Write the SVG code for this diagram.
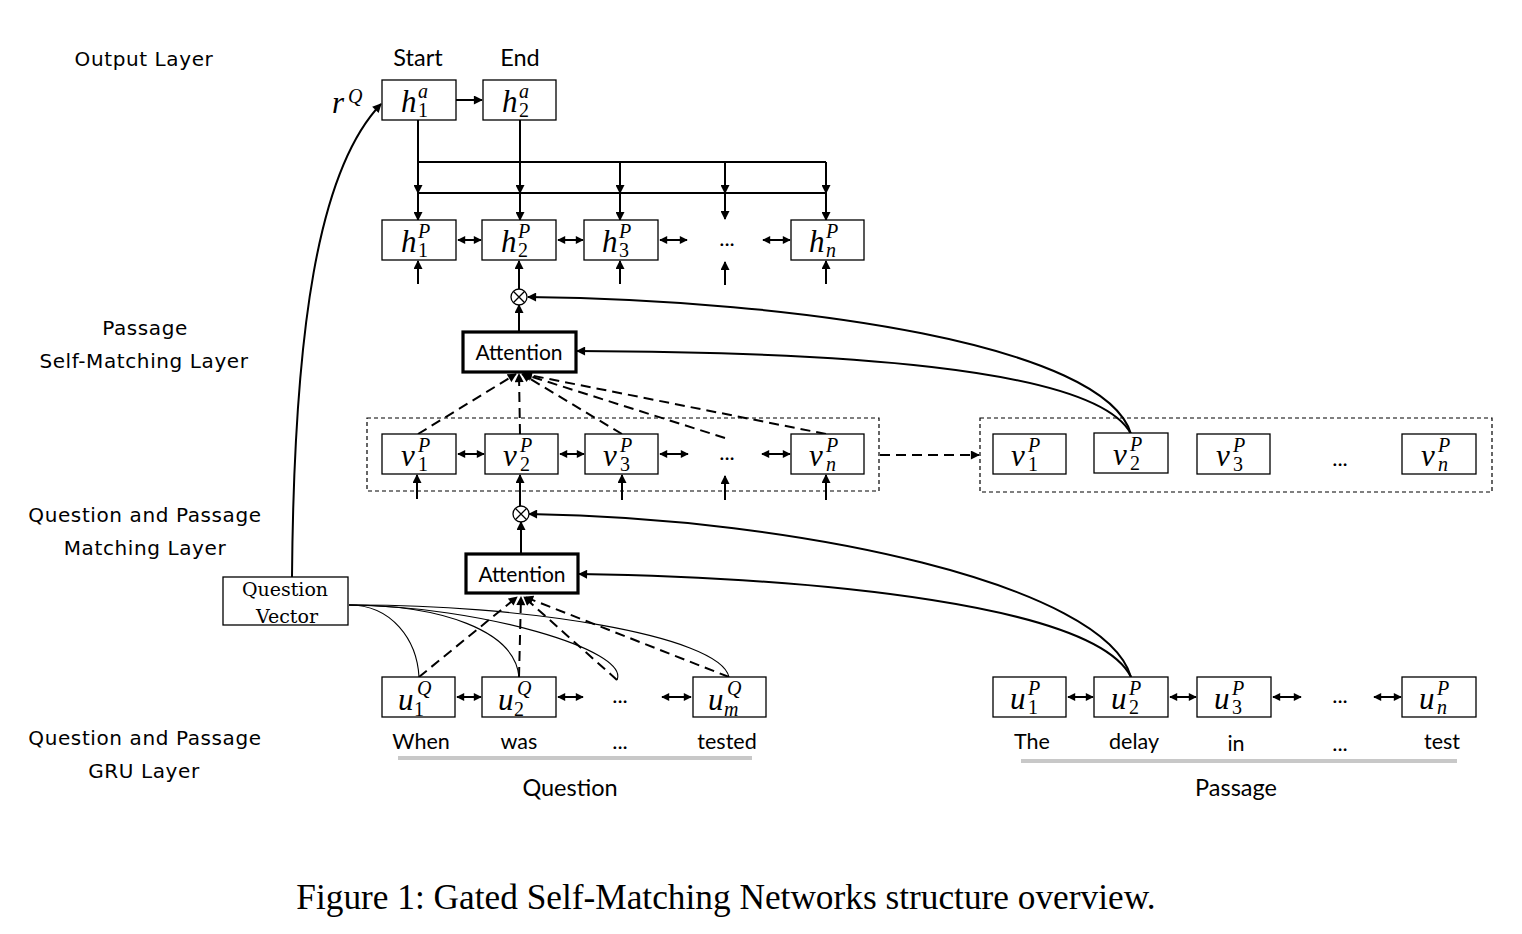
<svg xmlns="http://www.w3.org/2000/svg" width="1522" height="934" viewBox="0 0 1522 934">
<defs>
<marker id="ah" viewBox="0 0 10 10" refX="9" refY="5" markerWidth="10" markerHeight="9" markerUnits="userSpaceOnUse" orient="auto-start-reverse">
<path d="M0,0 L10,5 L0,10 z" fill="#000"/>
</marker>
<marker id="ahs" viewBox="0 0 10 10" refX="9" refY="5" markerWidth="9" markerHeight="8" markerUnits="userSpaceOnUse" orient="auto-start-reverse">
<path d="M0,0 L10,5 L0,10 z" fill="#000"/>
</marker>
</defs>
<style>
.box{fill:#fff;stroke:#000;stroke-width:1.3}
.att{fill:#fff;stroke:#000;stroke-width:3.2}
.cont{fill:none;stroke:#000;stroke-width:1.2;stroke-dasharray:4 3}
.ln{fill:none;stroke:#000;stroke-width:2}
.qv{fill:none;stroke:#000;stroke-width:1.1}
.dash{fill:none;stroke:#000;stroke-width:2;stroke-dasharray:10 6}
.arr{marker-end:url(#ah)}
.dbl{marker-start:url(#ahs);marker-end:url(#ahs)}
.lab{font-family:"DejaVu Sans",sans-serif;font-size:20px;letter-spacing:0.6px;text-anchor:middle;fill:#000}
.cal{font-family:Lato,"Liberation Sans",sans-serif;font-size:21.5px;text-anchor:middle;fill:#000}
.big{font-size:23.5px}
.attt{font-size:21px}
.m{font-family:"Liberation Serif",serif;font-style:italic;font-size:31px;fill:#000}
.s{font-family:"Liberation Serif",serif;font-size:20px;fill:#000}
.si{font-family:"Liberation Serif",serif;font-style:italic;font-size:20px;fill:#000}
.dots{font-family:Lato,"Liberation Sans",sans-serif;font-size:22px;text-anchor:middle;fill:#000}
.gray{stroke:#c8c8c8;stroke-width:4}
.cap{font-family:"Liberation Serif",serif;font-size:35.3px;text-anchor:middle;fill:#000}
</style>

<!-- layer labels -->
<g id="layer-labels">
<text class="lab" x="144" y="66">Output Layer</text>
<text class="lab" x="145" y="335">Passage</text>
<text class="lab" x="144" y="368">Self-Matching Layer</text>
<text class="lab" x="145" y="522">Question and Passage</text>
<text class="lab" x="145" y="555">Matching Layer</text>
<text class="lab" x="145" y="745">Question and Passage</text>
<text class="lab" x="144" y="778">GRU Layer</text>
</g>

<!-- connectors -->
<g id="connectors">
<line class="ln arr" x1="456" y1="100" x2="482" y2="100"/>
<line class="ln" x1="418" y1="162" x2="826" y2="162"/>
<line class="ln" x1="418" y1="193" x2="826" y2="193"/>
<line class="ln arr" x1="418" y1="120" x2="418" y2="193"/>
<line class="ln arr" x1="520" y1="120" x2="520" y2="193"/>
<line class="ln arr" x1="620" y1="162" x2="620" y2="193"/>
<line class="ln arr" x1="725" y1="162" x2="725" y2="193"/>
<line class="ln arr" x1="826" y1="162" x2="826" y2="193"/>
<line class="ln arr" x1="418" y1="193" x2="418" y2="220"/>
<line class="ln arr" x1="520" y1="193" x2="520" y2="220"/>
<line class="ln arr" x1="620" y1="193" x2="620" y2="220"/>
<line class="ln arr" x1="725" y1="193" x2="725" y2="219"/>
<line class="ln arr" x1="826" y1="193" x2="826" y2="220"/>
<line class="ln dbl" x1="458" y1="240" x2="481" y2="240"/>
<line class="ln dbl" x1="558" y1="240" x2="583" y2="240"/>
<line class="ln dbl" x1="660" y1="240" x2="687" y2="240"/>
<line class="ln dbl" x1="763" y1="240" x2="790" y2="240"/>
<line class="ln arr" x1="418" y1="284" x2="418" y2="261"/>
<line class="ln arr" x1="620" y1="284" x2="620" y2="261"/>
<line class="ln arr" x1="725" y1="285" x2="725" y2="262"/>
<line class="ln arr" x1="826" y1="284" x2="826" y2="261"/>
<line class="ln arr" x1="519" y1="289" x2="519" y2="261"/>
<line class="ln arr" x1="519" y1="331" x2="519" y2="305"/>
<path class="ln arr" d="M1131,434 C1105,345 800,300 528,297"/>
<path class="ln arr" d="M1131,434 C1095,365 820,352 577,351"/>
<line class="dash arr" x1="418" y1="434" x2="516" y2="374"/>
<line class="dash arr" x1="520" y1="434" x2="519" y2="374"/>
<line class="dash arr" x1="622" y1="434" x2="522" y2="374"/>
<line class="dash arr" x1="725" y1="438" x2="523" y2="374"/>
<line class="dash arr" x1="826" y1="434" x2="524" y2="374"/>
<line class="ln dbl" x1="458" y1="454" x2="484" y2="454"/>
<line class="ln dbl" x1="560" y1="454" x2="584" y2="454"/>
<line class="ln dbl" x1="660" y1="454" x2="688" y2="454"/>
<line class="ln dbl" x1="762" y1="454" x2="790" y2="454"/>
<line class="ln arr" x1="417" y1="499" x2="417" y2="475"/>
<line class="ln arr" x1="622" y1="500" x2="622" y2="475"/>
<line class="ln arr" x1="725" y1="500" x2="725" y2="476"/>
<line class="ln arr" x1="826" y1="500" x2="826" y2="475"/>
<line class="ln arr" x1="520" y1="506" x2="520" y2="475"/>
<line class="ln arr" x1="521" y1="553" x2="521" y2="522"/>
<line class="dash arr" x1="880" y1="455" x2="979" y2="455"/>
<path class="ln arr" d="M1131,677 C1105,585 800,518 529,514"/>
<path class="ln arr" d="M1131,677 C1095,605 820,578 579,574"/>
<line class="dash arr" x1="419" y1="677" x2="517" y2="597"/>
<line class="dash arr" x1="519" y1="677" x2="521" y2="597"/>
<line class="dash arr" x1="617" y1="680" x2="524" y2="597"/>
<line class="dash arr" x1="729" y1="677" x2="525" y2="597"/>
<path class="qv" d="M349,605 C392,605 417,640 419,677"/>
<path class="qv" d="M349,605 C440,605 515,630 519,677"/>
<path class="qv" d="M349,605 C480,606 630,650 617,680"/>
<path class="qv" d="M349,605 C520,604 720,635 729,677"/>
<path class="ln arr" d="M292,577 C294,330 318,170 381,104"/>
<line class="ln dbl" x1="457" y1="697" x2="481" y2="697"/>
<line class="ln dbl" x1="558" y1="697" x2="583" y2="697"/>
<line class="ln dbl" x1="662" y1="697" x2="691" y2="697"/>
<line class="ln dbl" x1="1068" y1="697" x2="1093" y2="697"/>
<line class="ln dbl" x1="1170" y1="697" x2="1196" y2="697"/>
<line class="ln dbl" x1="1273" y1="697" x2="1301" y2="697"/>
<line class="ln dbl" x1="1374" y1="697" x2="1401" y2="697"/>
<line class="gray" x1="398" y1="758" x2="752" y2="758"/>
<line class="gray" x1="1021" y1="761" x2="1457" y2="761"/>
</g>

<g id="start-label"><text class="cal big" x="418" y="66">Start</text></g>
<g id="end-label"><text class="cal big" x="520" y="66">End</text></g>
<g id="rQ"><text class="m" x="332" y="113">r</text><text class="si" x="348" y="103">Q</text></g>
<g id="h1a"><rect class="box" x="382" y="80" width="74" height="40"/><text class="m" x="401" y="112">h</text><text class="si" x="418" y="98">a</text><text class="s" x="418" y="117">1</text></g>
<g id="h2a"><rect class="box" x="483" y="80" width="73" height="40"/><text class="m" x="502" y="112">h</text><text class="si" x="519" y="98">a</text><text class="s" x="519" y="117">2</text></g>

<g id="h1P"><rect class="box" x="382" y="220" width="74" height="40"/><text class="m" x="401" y="252">h</text><text class="si" x="418" y="238">P</text><text class="s" x="418" y="257">1</text></g>
<g id="h2P"><rect class="box" x="482" y="220" width="74" height="40"/><text class="m" x="501" y="252">h</text><text class="si" x="518" y="238">P</text><text class="s" x="518" y="257">2</text></g>
<g id="h3P"><rect class="box" x="584" y="220" width="74" height="40"/><text class="m" x="602" y="252">h</text><text class="si" x="619" y="238">P</text><text class="s" x="619" y="257">3</text></g>
<g id="hdots"><text class="dots" x="727" y="246">...</text></g>
<g id="hnP"><rect class="box" x="791" y="220" width="73" height="40"/><text class="m" x="809" y="252">h</text><text class="si" x="826" y="238">P</text><text class="si" x="826" y="257">n</text></g>

<g id="gate1"><circle cx="519" cy="297" r="8" fill="#fff" stroke="#000" stroke-width="1.3"/><path d="M513.3,291.3 L524.7,302.7 M524.7,291.3 L513.3,302.7" stroke="#000" stroke-width="1.3"/></g>
<g id="attention1"><rect class="att" x="463" y="332" width="113" height="40"/><text class="cal attt" x="519" y="360">Attention</text></g>

<g id="vrow1-container"><rect class="cont" x="367" y="418" width="512" height="73"/></g>
<g id="v1P"><rect class="box" x="382" y="434" width="74" height="40"/><text class="m" x="401" y="466">v</text><text class="si" x="418" y="452">P</text><text class="s" x="418" y="471">1</text></g>
<g id="v2P"><rect class="box" x="485" y="434" width="73" height="40"/><text class="m" x="503" y="466">v</text><text class="si" x="520" y="452">P</text><text class="s" x="520" y="471">2</text></g>
<g id="v3P"><rect class="box" x="585" y="434" width="73" height="40"/><text class="m" x="603" y="466">v</text><text class="si" x="620" y="452">P</text><text class="s" x="620" y="471">3</text></g>
<g id="vdots"><text class="dots" x="727" y="460">...</text></g>
<g id="vnP"><rect class="box" x="791" y="434" width="73" height="40"/><text class="m" x="809" y="466">v</text><text class="si" x="826" y="452">P</text><text class="si" x="826" y="471">n</text></g>

<g id="vrow2-container"><rect class="cont" x="980" y="418" width="512" height="74"/></g>
<g id="v1P-r"><rect class="box" x="993" y="434" width="73" height="40"/><text class="m" x="1011" y="466">v</text><text class="si" x="1028" y="452">P</text><text class="s" x="1028" y="471">1</text></g>
<g id="v2P-r"><rect class="box" x="1094" y="433" width="74" height="40"/><text class="m" x="1113" y="465">v</text><text class="si" x="1130" y="451">P</text><text class="s" x="1130" y="470">2</text></g>
<g id="v3P-r"><rect class="box" x="1197" y="434" width="73" height="40"/><text class="m" x="1216" y="466">v</text><text class="si" x="1233" y="452">P</text><text class="s" x="1233" y="471">3</text></g>
<g id="vdots-r"><text class="dots" x="1340" y="466">...</text></g>
<g id="vnP-r"><rect class="box" x="1402" y="434" width="74" height="40"/><text class="m" x="1421" y="466">v</text><text class="si" x="1438" y="452">P</text><text class="si" x="1438" y="471">n</text></g>

<g id="gate2"><circle cx="521" cy="514" r="8" fill="#fff" stroke="#000" stroke-width="1.3"/><path d="M515.3,508.3 L526.7,519.7 M526.7,508.3 L515.3,519.7" stroke="#000" stroke-width="1.3"/></g>
<g id="attention2"><rect class="att" x="466" y="554" width="112" height="39"/><text class="cal attt" x="522" y="582">Attention</text></g>

<g id="question-vector"><rect class="box" x="223" y="577" width="125" height="48"/><text x="285" y="596" font-family="DejaVu Serif, serif" font-size="19" text-anchor="middle">Question</text><text x="287" y="623" font-family="DejaVu Serif, serif" font-size="19" text-anchor="middle">Vector</text></g>

<g id="u1Q"><rect class="box" x="382" y="677" width="73" height="40"/><text class="m" x="398" y="710">u</text><text class="si" x="417" y="695">Q</text><text class="s" x="414" y="716">1</text></g>
<g id="u2Q"><rect class="box" x="482" y="677" width="74" height="40"/><text class="m" x="498" y="710">u</text><text class="si" x="517" y="695">Q</text><text class="s" x="514" y="716">2</text></g>
<g id="uQdots"><text class="dots" x="620" y="703">...</text></g>
<g id="umQ"><rect class="box" x="693" y="677" width="73" height="40"/><text class="m" x="708" y="710">u</text><text class="si" x="727" y="695">Q</text><text class="si" x="724" y="716">m</text></g>

<g id="question-words">
<text class="cal" x="421" y="749">When</text>
<text class="cal" x="519" y="749">was</text>
<text class="dots" x="620" y="749">...</text>
<text class="cal" x="727" y="749">tested</text>
<text class="cal big" x="570" y="796">Question</text>
</g>

<g id="u1P"><rect class="box" x="993" y="677" width="73" height="40"/><text class="m" x="1010" y="709">u</text><text class="si" x="1028" y="695">P</text><text class="s" x="1028" y="714">1</text></g>
<g id="u2P"><rect class="box" x="1094" y="677" width="74" height="40"/><text class="m" x="1111" y="709">u</text><text class="si" x="1129" y="695">P</text><text class="s" x="1129" y="714">2</text></g>
<g id="u3P"><rect class="box" x="1197" y="677" width="74" height="40"/><text class="m" x="1214" y="709">u</text><text class="si" x="1232" y="695">P</text><text class="s" x="1232" y="714">3</text></g>
<g id="uPdots"><text class="dots" x="1340" y="703">...</text></g>
<g id="unP"><rect class="box" x="1402" y="677" width="74" height="40"/><text class="m" x="1419" y="709">u</text><text class="si" x="1437" y="695">P</text><text class="si" x="1437" y="714">n</text></g>

<g id="passage-words">
<text class="cal" x="1032" y="749">The</text>
<text class="cal" x="1134" y="749">delay</text>
<text class="cal" x="1236" y="751">in</text>
<text class="dots" x="1340" y="751">...</text>
<text class="cal" x="1442" y="749">test</text>
<text class="cal big" x="1236" y="796">Passage</text>
</g>

<g id="caption"><text class="cap" x="726" y="909">Figure 1: Gated Self-Matching Networks structure overview.</text></g>
</svg>
